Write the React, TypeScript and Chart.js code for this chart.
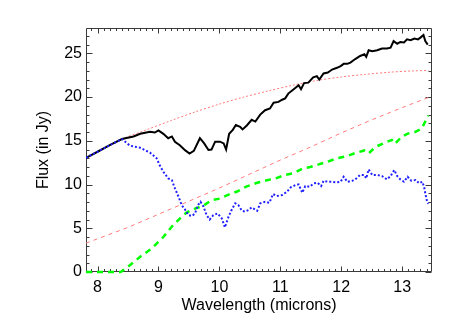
import React, { useEffect, useRef } from "react";
import { Chart, registerables } from "chart.js";

Chart.register(...registerables);

// Black solid: observed total flux
const totalWave = [7.81, 8.0, 8.2, 8.4, 8.59, 8.7, 8.86, 8.94, 9.0, 9.08, 9.16, 9.22, 9.27, 9.35, 9.44, 9.51, 9.58, 9.68, 9.75, 9.82, 9.87, 9.93, 10.01, 10.07, 10.11, 10.16, 10.22, 10.27, 10.34, 10.38, 10.45, 10.53, 10.59, 10.67, 10.75, 10.83, 10.89, 10.97, 11.03, 11.08, 11.13, 11.22, 11.3, 11.34, 11.39, 11.46, 11.54, 11.6, 11.64, 11.71, 11.78, 11.85, 11.93, 11.99, 12.04, 12.1, 12.15, 12.23, 12.31, 12.38, 12.41, 12.45, 12.51, 12.59, 12.67, 12.75, 12.81, 12.86, 12.92, 12.97, 13.03, 13.08, 13.14, 13.2, 13.26, 13.3, 13.35, 13.38, 13.42];
const totalFlux = [13.06, 13.75, 14.5, 15.2, 15.5, 15.8, 16.03, 15.95, 16.2, 15.8, 15.3, 15.5, 14.9, 14.5, 13.9, 13.55, 13.85, 15.3, 14.7, 13.95, 14.0, 14.9, 14.9, 14.7, 14.0, 15.8, 16.25, 16.8, 16.6, 16.3, 16.75, 17.4, 17.2, 18.0, 18.5, 18.7, 19.35, 19.45, 19.7, 19.85, 20.4, 20.9, 21.35, 20.9, 21.6, 21.65, 22.25, 22.4, 22.0, 22.7, 22.8, 23.15, 23.35, 23.55, 23.8, 23.8, 23.95, 24.35, 24.7, 24.9, 24.6, 25.35, 25.25, 25.35, 25.55, 25.55, 25.65, 26.4, 26.1, 26.3, 26.25, 26.6, 26.5, 26.7, 26.6, 26.8, 27.1, 26.4, 26.0];

// Blue dotted
const blueWave = [7.81, 8.0, 8.2, 8.4, 8.53, 8.7, 8.86, 8.97, 9.02, 9.08, 9.16, 9.22, 9.27, 9.33, 9.38, 9.44, 9.49, 9.55, 9.6, 9.65, 9.69, 9.74, 9.79, 9.84, 9.9, 9.97, 10.04, 10.09, 10.15, 10.2, 10.26, 10.31, 10.37, 10.42, 10.48, 10.53, 10.62, 10.67, 10.75, 10.82, 10.88, 10.94, 11.03, 11.11, 11.17, 11.25, 11.3, 11.36, 11.41, 11.48, 11.55, 11.61, 11.67, 11.71, 11.78, 11.85, 11.93, 11.99, 12.04, 12.1, 12.18, 12.23, 12.31, 12.38, 12.41, 12.45, 12.51, 12.59, 12.67, 12.75, 12.81, 12.87, 12.92, 12.97, 13.03, 13.09, 13.15, 13.22, 13.28, 13.33, 13.36, 13.38, 13.41, 13.43];
const blueFlux = [13.06, 13.75, 14.5, 15.2, 14.45, 14.2, 13.65, 13.0, 12.2, 11.46, 10.7, 10.5, 9.56, 8.6, 7.66, 7.09, 6.5, 6.4, 6.7, 7.66, 8.03, 7.46, 6.5, 6.0, 6.5, 6.7, 6.13, 5.1, 6.32, 7.09, 7.85, 7.66, 7.0, 6.9, 7.09, 7.39, 7.0, 7.85, 8.03, 7.92, 8.91, 8.69, 8.8, 9.18, 9.68, 9.94, 10.02, 9.06, 9.83, 9.75, 10.14, 10.21, 9.83, 10.43, 10.32, 10.32, 10.25, 10.32, 10.89, 10.32, 10.43, 10.59, 11.09, 11.09, 10.7, 11.73, 11.09, 11.09, 10.97, 10.59, 10.97, 11.66, 10.97, 10.59, 10.32, 10.89, 10.43, 10.51, 10.14, 10.32, 9.75, 8.99, 8.03, 7.8];

// Green dashed
const greenWave = [7.81, 8.0, 8.2, 8.38, 8.5, 8.64, 8.7, 8.89, 9.08, 9.22, 9.35, 9.46, 9.6, 9.74, 9.87, 10.01, 10.15, 10.29, 10.45, 10.62, 10.78, 10.92, 11.08, 11.22, 11.36, 11.49, 11.63, 11.77, 11.93, 12.07, 12.23, 12.38, 12.45, 12.56, 12.72, 12.83, 12.88, 12.99, 13.1, 13.21, 13.32, 13.4, 13.43];
const greenFlux = [0, 0, 0, 0, 0.6, 1.4, 1.75, 2.7, 4.0, 5.2, 6.1, 6.8, 7.25, 7.6, 8.2, 8.4, 8.85, 9.2, 9.8, 10.2, 10.5, 10.7, 11.1, 11.3, 11.8, 12.0, 12.3, 12.6, 13.0, 13.2, 13.6, 13.9, 13.56, 14.3, 14.8, 15.1, 14.65, 15.45, 15.85, 16.0, 16.4, 17.5, 17.9];

// Light red dotted
const redDotWave = [7.81, 8.1, 8.4, 8.8, 9.2, 9.6, 10.0, 10.4, 10.8, 11.2, 11.6, 12.0, 12.4, 12.8, 13.2, 13.43];
const redDotFlux = [13.06, 14.1, 15.2, 16.25, 17.3, 18.3, 19.2, 20.0, 20.7, 21.35, 21.9, 22.3, 22.6, 22.85, 23.0, 23.05];

// Light red dashed
const redDashWave = [7.81, 8.5, 9.0, 9.5, 10.0, 10.5, 11.0, 11.5, 12.0, 12.5, 13.0, 13.45];
const redDashFlux = [3.3, 5.1, 6.6, 8.1, 9.6, 11.2, 12.8, 14.3, 15.9, 17.4, 18.8, 20.0];

const xTicks = [8, 9, 10, 11, 12, 13];
const yTicks = [0, 5, 10, 15, 20, 25];
const xMinorStep = 0.1;
const yMinorStep = 1;

const pts = (xs: number[], ys: number[]) => xs.map((x, i) => ({ x, y: ys[i] }));

const FONT = "'Liberation Sans', Arial, Helvetica, sans-serif";

const framePlugin = {
  id: "frameTicks",
  beforeDatasetsDraw(chart: any) {
    const { ctx, chartArea: a, scales } = chart;
    const x = scales.x;
    const y = scales.y;
    const L = Math.round(a.left) + 0.5;
    const R = Math.round(a.right) - 0.5;
    const T = Math.round(a.top) + 0.5;
    const B = Math.round(a.bottom) - 0.5;
    ctx.save();
    ctx.strokeStyle = "#3a3a3a";
    ctx.lineWidth = 1;
    ctx.beginPath();
    ctx.rect(L, T, R - L, B - T);
    const nx0 = Math.ceil(x.min / xMinorStep - 1e-6);
    const nx1 = Math.floor(x.max / xMinorStep + 1e-6);
    for (let i = nx0; i <= nx1; i++) {
      const v = i * xMinorStep;
      const major = xTicks.some((t) => Math.abs(t - v) < 1e-6);
      const len = major ? 5 : 2.5;
      const px = Math.round(x.getPixelForValue(v)) + 0.5;
      ctx.moveTo(px, B);
      ctx.lineTo(px, B - len);
      ctx.moveTo(px, T);
      ctx.lineTo(px, T + len);
    }
    const ny0 = Math.ceil(y.min / yMinorStep - 1e-6);
    const ny1 = Math.floor(y.max / yMinorStep + 1e-6);
    for (let i = ny0; i <= ny1; i++) {
      const v = i * yMinorStep;
      const major = yTicks.some((t) => Math.abs(t - v) < 1e-6);
      const len = major ? 6 : 3;
      const py = Math.round(y.getPixelForValue(v)) + 0.5;
      ctx.moveTo(L, py);
      ctx.lineTo(L + len, py);
      ctx.moveTo(R, py);
      ctx.lineTo(R - len, py);
    }
    ctx.stroke();
    ctx.restore();
  },
};

export default function App() {
  const ref = useRef<HTMLCanvasElement | null>(null);
  useEffect(() => {
    if (!ref.current) return;
    const chart = new Chart(ref.current, {
      type: "line",
      data: {
        datasets: [
          {
            data: pts(blueWave, blueFlux),
            borderColor: "#2020ff",
            borderWidth: 2,
            borderDash: [2, 2],
            pointRadius: 0,
            tension: 0,
          },
          {
            data: pts(totalWave, totalFlux),
            borderColor: "#000000",
            borderWidth: 2,
            pointRadius: 0,
            tension: 0,
          },
          {
            data: pts(greenWave, greenFlux),
            borderColor: "#00ff00",
            borderWidth: 2.5,
            borderDash: [6, 5],
            pointRadius: 0,
            tension: 0,
            clip: 4,
          },
          {
            data: pts(redDashWave, redDashFlux),
            borderColor: "#ff7a7a",
            borderWidth: 1,
            borderDash: [4, 4],
            pointRadius: 0,
            tension: 0,
          },
          {
            data: pts(redDotWave, redDotFlux),
            borderColor: "#ff7a7a",
            borderWidth: 1,
            borderDash: [2, 2],
            pointRadius: 0,
            tension: 0.3,
          },
        ],
      },
      options: {
        animation: false,
        responsive: false,
        events: [],
        layout: { padding: { top: 28, right: 26, left: 0, bottom: 0 } },
        plugins: { legend: { display: false }, tooltip: { enabled: false } },
        scales: {
          x: {
            type: "linear",
            min: 7.81,
            max: 13.49,
            grid: { display: false, drawTicks: false },
            border: { display: false },
            afterFit: (s: any) => {
              s.height = 55;
            },
            afterBuildTicks: (s: any) => {
              s.ticks = xTicks.map((v) => ({ value: v }));
            },
            ticks: {
              color: "#000",
              padding: 6,
              maxRotation: 0,
              autoSkip: false,
              font: { family: FONT, size: 16 },
              callback: (v: any) => String(v),
            },
            title: {
              display: true,
              text: "Wavelength (microns)",
              color: "#000",
              font: { family: FONT, size: 16 },
              padding: { top: 0, bottom: 12 },
            },
          },
          y: {
            type: "linear",
            min: 0,
            max: 27.9,
            grid: { display: false, drawTicks: false },
            border: { display: false },
            afterFit: (s: any) => {
              s.width = 86;
            },
            afterBuildTicks: (s: any) => {
              s.ticks = yTicks.map((v) => ({ value: v }));
            },
            ticks: {
              color: "#000",
              padding: 4,
              autoSkip: false,
              font: { family: FONT, size: 16 },
              callback: (v: any) => String(v),
            },
            title: {
              display: true,
              text: "Flux (in Jy)",
              color: "#000",
              font: { family: FONT, size: 16 },
              padding: { top: 34, bottom: 0 },
            },
          },
        },
      },
      plugins: [framePlugin],
    });
    return () => chart.destroy();
  }, []);
  return (
    <div style={{ position: "absolute", left: 0, top: 0, width: 458, height: 327, background: "#fff" }}>
      <canvas ref={ref} width={458} height={327} style={{ display: "block" }} />
    </div>
  );
}
